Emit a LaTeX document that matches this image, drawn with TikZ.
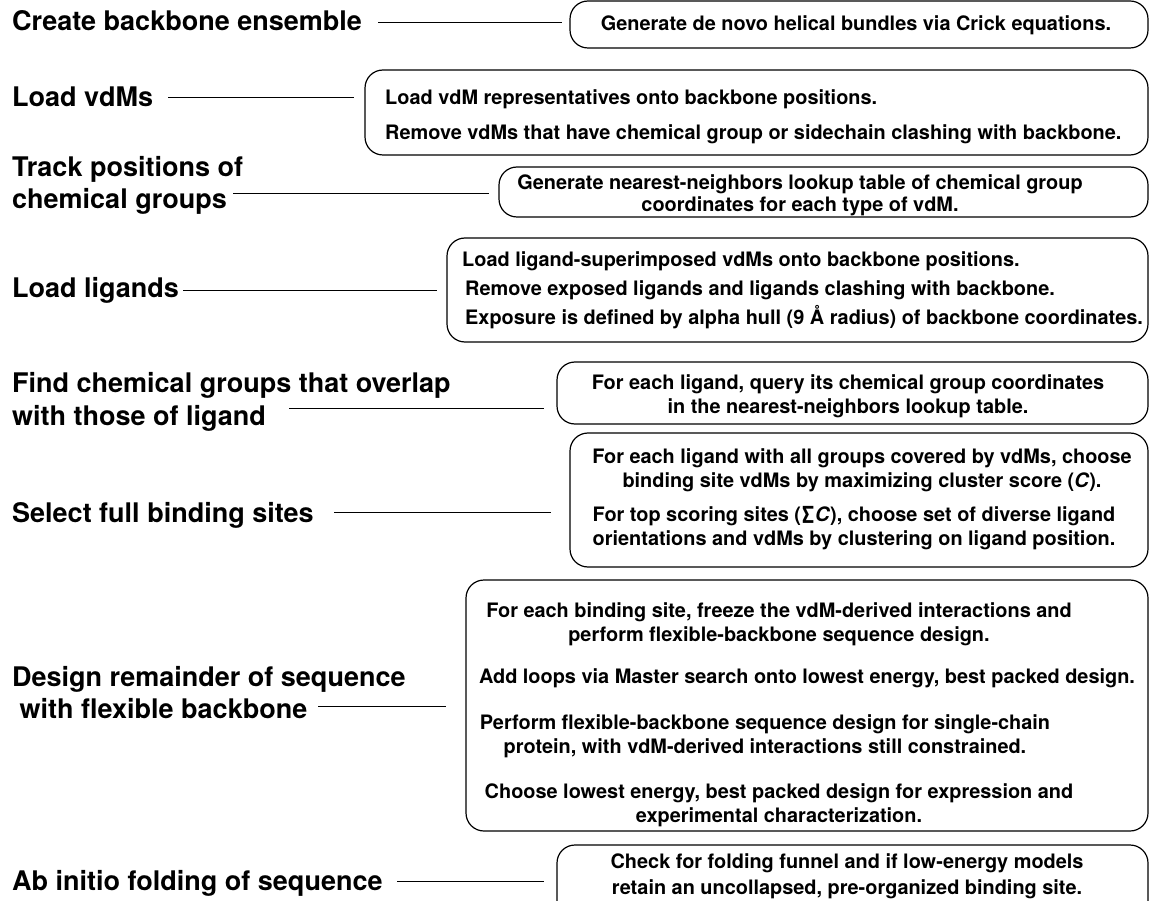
\documentclass[tikz,border=0pt]{standalone}
\usepackage{fontspec}
\setmainfont{TeX Gyre Heros}
\usetikzlibrary{fit}
\begin{document}
\begin{tikzpicture}[x=1pt,y=-1pt,
  head/.style={anchor=base west, inner sep=0pt, font=\fontsize{27}{32}\selectfont\bfseries},
  txt/.style={anchor=base, inner sep=0pt, font=\fontsize{19.9}{24}\selectfont\bfseries},
  txtl/.style={txt, anchor=base west},
  box/.style={draw, line width=1.2pt, rounded corners=18pt, inner sep=0pt},
  link/.style={draw, line width=0.9pt}]
\useasboundingbox (0,0) rectangle (1149,901);
\clip (0,0) rectangle (1149,901);
% boxes
\node[box, fit={(570,1) (1148,48)}] (b1) {};
\node[box, fit={(365,70) (1148,155)}] (b2) {};
\node[box, fit={(499,167) (1148,217)}] (b3) {};
\node[box, fit={(447,238) (1148,342)}] (b4) {};
\node[box, fit={(557,362) (1148,424)}] (b5) {};
\node[box, fit={(570,433) (1148,567)}] (b6) {};
\node[box, fit={(466,580) (1148,831)}] (b7) {};
\node[box, fit={(557,845) (1148,925)}] (b8) {};
% headings
\node[head] (h1) at (12,31) {Create backbone ensemble};
\node[head] (h2) at (12,107) {Load vdMs};
\node[head] (h3a) at (12,177) {Track positions of};
\node[head] (h3b) at (12,209) {chemical groups};
\node[head] (h4) at (12,298) {Load ligands};
\node[head] (h5a) at (12,392) {Find chemical groups that overlap};
\node[head] (h5b) at (12,425) {with those of ligand};
\node[head] (h6) at (12,522) {Select full binding sites};
\node[head] (h7a) at (12,686) {Design remainder of sequence};
\node[head] (h7b) at (12,718) {\ with flexible backbone};
\node[head] (h8) at (12,890) {Ab initio folding of sequence};
% box texts
\node[txt] (t1) at (856,31) {Generate de novo helical bundles via Crick equations.};
\node[txtl] (t2a) at (385,105) {Load vdM representatives onto backbone positions.};
\node[txtl] (t2b) at (385,140) {Remove vdMs that have chemical group or sidechain clashing with backbone.};
\node[txt] (t3a) at (800,190) {Generate nearest-neighbors lookup table of chemical group};
\node[txt] (t3b) at (800,212) {coordinates for each type of vdM.};
\node[txtl] (t4a) at (462,267) {Load ligand-superimposed vdMs onto backbone positions.};
\node[txtl] (t4b) at (465,296) {Remove exposed ligands and ligands clashing with backbone.};
\node[txtl] (t4c) at (465,325) {Exposure is defined by alpha hull (9 Å radius) of backbone coordinates.};
\node[txt] (t5a) at (848,389) {For each ligand, query its chemical group coordinates};
\node[txt] (t5b) at (848,413) {in the nearest-neighbors lookup table.};
\node[txt] (t6a) at (862,463) {For each ligand with all groups covered by vdMs, choose};
\node[txt] (t6b) at (862,487) {binding site vdMs by maximizing cluster score (\textit{C}).};
\node[txt] (t6c) at (854,521) {For top scoring sites (∑\textit{C}), choose set of diverse ligand};
\node[txt] (t6d) at (854,545) {orientations and vdMs by clustering on ligand position.};
\node[txt] (t7a) at (779,617) {For each binding site, freeze the vdM-derived interactions and};
\node[txt] (t7b) at (779,641) {perform flexible-backbone sequence design.};
\node[txt] (t7c) at (807,683) {Add loops via Master search onto lowest energy, best packed design.};
\node[txt] (t7d) at (765,729) {Perform flexible-backbone sequence design for single-chain};
\node[txt] (t7e) at (765,753) {protein, with vdM-derived interactions still constrained.};
\node[txt] (t7f) at (779,798) {Choose lowest energy, best packed design for expression and};
\node[txt] (t7g) at (779,822) {experimental characterization.};
\node[txt] (t8a) at (847,868) {Check for folding funnel and if low-energy models};
\node[txt] (t8b) at (847,894) {retain an uncollapsed, pre-organized binding site.};
% connectors
\coordinate (s1) at (378,22);
\coordinate (s2) at (168,97);
\coordinate (s3) at (233,193);
\coordinate (s4) at (183,290);
\coordinate (s5) at (289,408);
\coordinate (s6) at (334,512);
\coordinate (s7) at (318,706);
\coordinate (s8) at (397,881);
\draw[link, shorten >=7pt] (s1) -- (s1 -| b1.west);
\draw[link, shorten >=10pt] (s2) -- (s2 -| b2.west);
\draw[link, shorten >=9pt] (s3) -- (s3 -| b3.west);
\draw[link, shorten >=9pt] (s4) -- (s4 -| b4.west);
\draw[link, shorten >=12pt] (s5) -- (s5 -| b5.west);
\draw[link, shorten >=18pt] (s6) -- (s6 -| b6.west);
\draw[link, shorten >=19pt] (s7) -- (s7 -| b7.west);
\draw[link, shorten >=12pt] (s8) -- (s8 -| b8.west);
\end{tikzpicture}
\end{document}
